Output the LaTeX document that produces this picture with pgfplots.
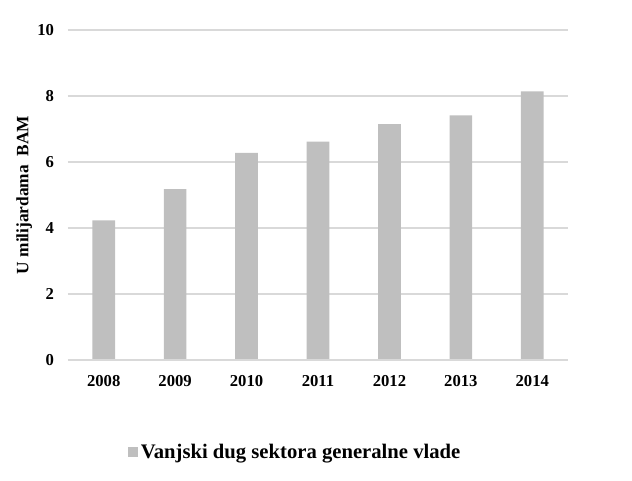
\documentclass[border=0pt]{standalone}
\usepackage{pgfplots}
\pgfplotsset{compat=1.18}
\usepackage{fontspec}
\setmainfont{Liberation Serif}
\definecolor{barc}{HTML}{BFBFBF}
\definecolor{gridc}{HTML}{D9D9D9}
\begin{document}
\begin{tikzpicture}
  \begin{axis}[
    at={(0,0)}, anchor=south west,
    scale only axis,
    width=375pt, height=247.5pt,
    xmin=-0.5, xmax=6.5,
    ymin=0, ymax=10,
    ytick={0,2,4,6,8,10},
    xtick=data,
    xticklabels={2008,2009,2010,2011,2012,2013,2014},
    axis line style={draw=none},
    tick style={draw=none},
    ymajorgrids,
    grid style={gridc, line width=0.9pt},
    tick label style={font=\fontsize{12.5}{13}\selectfont\bfseries},
    /pgf/number format/assume math mode=true,
    yticklabel style={xshift=-7pt},
    xticklabel style={yshift=-8pt},
    ylabel={U milijardama\ \ BAM},
    ylabel style={font=\fontsize{13}{14}\selectfont\bfseries, yshift=-3pt},
    legend style={at={(0.112,-0.28)}, anchor=west, draw=none,
      font=\fontsize{15.5}{17}\selectfont\bfseries},
    legend image code/.code={\fill[barc] (0,-0.13cm) rectangle (0.26cm,0.13cm);},
  ]
  \addplot[ybar, bar width=17pt, fill=barc, draw=none] coordinates {
    (0,4.23) (1,5.18) (2,6.28) (3,6.62) (4,7.15) (5,7.41) (6,8.14)};
  \addlegendentry{Vanjski dug sektora generalne vlade}
  \draw[gridc, line width=0.9pt] (axis cs:-0.5,0) -- (axis cs:6.5,0);
  \end{axis}
  \path[use as bounding box] (-51pt,-90pt) rectangle (423pt,270pt);
\end{tikzpicture}
\end{document}
